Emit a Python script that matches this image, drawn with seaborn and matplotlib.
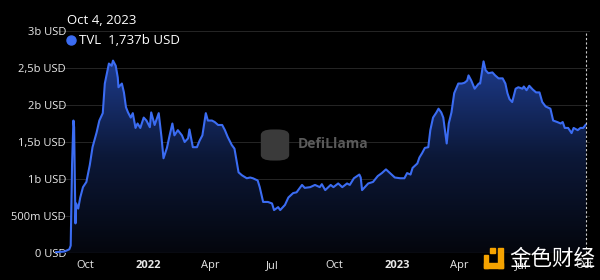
import numpy as np
import pandas as pd
import matplotlib
matplotlib.use("Agg")
import matplotlib.pyplot as plt
import matplotlib.dates as mdates
from matplotlib.patches import FancyBboxPatch, Rectangle
from matplotlib.lines import Line2D
from matplotlib.colors import LinearSegmentedColormap
import seaborn as sns

dates = [
    "2021-08-17", "2021-08-31", "2021-09-07", "2021-09-09", "2021-09-11", "2021-09-13",
    "2021-09-14", "2021-09-16", "2021-09-17", "2021-09-20", "2021-09-23", "2021-09-27",
    "2021-10-02", "2021-10-07", "2021-10-11", "2021-10-17", "2021-10-21", "2021-10-26",
    "2021-10-29", "2021-11-02", "2021-11-04", "2021-11-08", "2021-11-10", "2021-11-14",
    "2021-11-17", "2021-11-18", "2021-11-23", "2021-11-26", "2021-11-29", "2021-12-02",
    "2021-12-06", "2021-12-09", "2021-12-13", "2021-12-16", "2021-12-20", "2021-12-25",
    "2021-12-29", "2022-01-03", "2022-01-05", "2022-01-10", "2022-01-16", "2022-01-20",
    "2022-01-23", "2022-01-28", "2022-02-01", "2022-02-05", "2022-02-08", "2022-02-13",
    "2022-02-19", "2022-02-23", "2022-02-28", "2022-03-02", "2022-03-07", "2022-03-13",
    "2022-03-17", "2022-03-21", "2022-03-26", "2022-03-29", "2022-04-04", "2022-04-08",
    "2022-04-13", "2022-04-19", "2022-04-23", "2022-04-27", "2022-05-03", "2022-05-07",
    "2022-05-10", "2022-05-13", "2022-05-18", "2022-05-25", "2022-05-30", "2022-06-03",
    "2022-06-10", "2022-06-13", "2022-06-18", "2022-06-25", "2022-07-01", "2022-07-04",
    "2022-07-10", "2022-07-13", "2022-07-20", "2022-07-25", "2022-08-01", "2022-08-06",
    "2022-08-14", "2022-08-18", "2022-08-26", "2022-09-02", "2022-09-09", "2022-09-12",
    "2022-09-17", "2022-09-25", "2022-09-29", "2022-10-06", "2022-10-12", "2022-10-19",
    "2022-10-23", "2022-10-29", "2022-11-06", "2022-11-08", "2022-11-10", "2022-11-14",
    "2022-11-19", "2022-11-26", "2022-12-03", "2022-12-09", "2022-12-15", "2022-12-21",
    "2022-12-28", "2023-01-05", "2023-01-11", "2023-01-15", "2023-01-20", "2023-01-23",
    "2023-01-30", "2023-02-02", "2023-02-06", "2023-02-10", "2023-02-15", "2023-02-18",
    "2023-02-22", "2023-02-27", "2023-03-02", "2023-03-06", "2023-03-09", "2023-03-14",
    "2023-03-17", "2023-03-21", "2023-03-25", "2023-03-31", "2023-04-05", "2023-04-09",
    "2023-04-13", "2023-04-15", "2023-04-19", "2023-04-24", "2023-04-30", "2023-05-02",
    "2023-05-07", "2023-05-10", "2023-05-14", "2023-05-20", "2023-05-24", "2023-05-29",
    "2023-06-04", "2023-06-08", "2023-06-11", "2023-06-14", "2023-06-18", "2023-06-23",
    "2023-06-27", "2023-07-03", "2023-07-05", "2023-07-09", "2023-07-13", "2023-07-18",
    "2023-07-23", "2023-07-28", "2023-08-01", "2023-08-06", "2023-08-13", "2023-08-17",
    "2023-08-23", "2023-08-28", "2023-08-31", "2023-09-03", "2023-09-08", "2023-09-13",
    "2023-09-16", "2023-09-22", "2023-09-26", "2023-09-30", "2023-10-04",
]
tvl_billion = [
    0.01, 0.02, 0.05, 0.10, 1.20, 1.79,
    1.70, 0.40, 0.67, 0.60, 0.75, 0.89,
    0.96, 1.19, 1.43, 1.63, 1.79, 1.89,
    2.29, 2.47, 2.56, 2.53, 2.60, 2.53,
    2.37, 2.24, 2.29, 2.17, 1.97, 1.90,
    1.83, 1.89, 1.69, 1.75, 1.69, 1.83,
    1.79, 1.70, 1.90, 1.73, 1.89, 1.57,
    1.28, 1.42, 1.59, 1.75, 1.59, 1.66,
    1.59, 1.50, 1.55, 1.67, 1.43, 1.43,
    1.52, 1.59, 1.89, 1.79, 1.79, 1.77,
    1.73, 1.73, 1.66, 1.57, 1.46, 1.41,
    1.25, 1.09, 1.05, 1.01, 1.02, 1.01,
    0.98, 0.89, 0.69, 0.69, 0.67, 0.58,
    0.62, 0.58, 0.65, 0.75, 0.81, 0.82,
    0.92, 0.88, 0.89, 0.92, 0.89, 0.93,
    0.85, 0.92, 0.89, 0.94, 0.89, 0.94,
    0.92, 1.01, 1.06, 1.02, 0.85, 0.89,
    0.94, 0.96, 1.04, 1.08, 1.13, 1.08,
    1.02, 1.01, 1.01, 1.08, 1.06, 1.15,
    1.21, 1.29, 1.35, 1.42, 1.43, 1.66,
    1.83, 1.90, 1.95, 1.90, 1.83, 1.48,
    1.75, 1.90, 2.16, 2.29, 2.29, 2.30,
    2.33, 2.40, 2.33, 2.22, 2.29, 2.29,
    2.59, 2.47, 2.43, 2.44, 2.40, 2.36,
    2.36, 2.29, 2.16, 2.08, 2.04, 2.22,
    2.24, 2.22, 2.25, 2.20, 2.26, 2.21,
    2.17, 2.17, 2.04, 1.98, 1.95, 1.79,
    1.77, 1.75, 1.77, 1.69, 1.69, 1.62,
    1.69, 1.66, 1.69, 1.69, 1.737,
]
ytick_values = [0, 0.5, 1.0, 1.5, 2.0, 2.5, 3.0]
ytick_labels = ["0 USD", "500m USD", "1b USD", "1,5b USD", "2b USD", "2,5b USD", "3b USD"]
xtick_dates = ["2021-10-01", "2022-01-01", "2022-04-01", "2022-07-01", "2022-10-01",
               "2023-01-01", "2023-04-01", "2023-07-01", "2023-10-01"]
xtick_labels = ["Oct", "2022", "Apr", "Jul", "Oct", "2023", "Apr", "Jul", "Oct"]
tooltip_date = "Oct 4, 2023"
tooltip_series = "TVL"
tooltip_value = "1,737b USD"

df = pd.DataFrame({"date": pd.to_datetime(dates), "tvl": tvl_billion})

sns.set_theme(style="dark")
plt.rcParams["font.family"] = ["Open Sans", "DejaVu Sans"]

BG = "#000000"
LINE = "#3b6cf2"
ORANGE = "#f5a300"
fig = plt.figure(figsize=(6.0, 2.8), dpi=100, facecolor=BG)
ax = fig.add_axes([55 / 600, 27 / 280, 535 / 600, 222 / 280])
ax.set_facecolor(BG)

x0 = pd.Timestamp("2021-08-17")
x1 = pd.Timestamp("2023-10-10")
ax.set_xlim(x0, x1)
ax.set_ylim(0, 3.0)

# gradient fill under the curve
poly = ax.fill_between(df["date"], df["tvl"], 0, color="none", lw=0)
grad = np.linspace(0, 1, 256).reshape(-1, 1)
cmap = LinearSegmentedColormap.from_list("g", ["#04060d", "#0c1838", "#1d3b8c"])
ymax = max(tvl_billion)
im = ax.imshow(grad, aspect="auto", cmap=cmap, origin="lower",
               extent=[mdates.date2num(x0), mdates.date2num(x1), 0, ymax],
               zorder=1)
im.set_clip_path(poly.get_paths()[0], transform=ax.transData)

sns.lineplot(data=df, x="date", y="tvl", ax=ax, color=LINE, linewidth=1.5, zorder=3)

# grid
for v in ytick_values[1:]:
    ax.axhline(v, color="#262626", lw=0.7, zorder=0)
ax.axhline(0, color="#5a5a5a", lw=0.8, zorder=2)

ax.set_yticks(ytick_values)
ax.set_yticklabels(ytick_labels)
ax.tick_params(axis="y", length=0, pad=-8, colors="#e8e8e8", labelsize=8)
for lbl in ax.get_yticklabels():
    lbl.set_zorder(5)

ax.set_xticks(pd.to_datetime(xtick_dates))
ax.set_xticklabels(xtick_labels)
ax.tick_params(axis="x", length=3, width=0.8, color="#cccccc", pad=2,
               colors="#e8e8e8", labelsize=8)
for lbl in ax.get_xticklabels():
    if lbl.get_text().isdigit():
        lbl.set_fontweight("bold")

ax.set_xlabel("")
ax.set_ylabel("")
ax.grid(False)
for s in ax.spines.values():
    s.set_visible(False)

# crosshair at last date
ax.axvline(pd.Timestamp(dates[-1]), color="#cccccc", lw=0.8, ls=(0, (2, 2)), zorder=4)

# tooltip
fig.text(67 / 600, 1 - 20 / 280, tooltip_date, color="white", fontsize=9.5,
         va="center", ha="left")
fig.text(79 / 600, 1 - 40.5 / 280, f"{tooltip_series}  {tooltip_value}", color="white",
         fontsize=9.5, va="center", ha="left")
fig.add_artist(Line2D([71 / 600], [1 - 40 / 280], marker="o", markersize=6.5,
                      color=LINE, linestyle="none", transform=fig.transFigure))

# DefiLlama watermark
fig.patches.append(FancyBboxPatch((262 / 600, 1 - 160 / 280), 26 / 600, 30 / 280,
                                  boxstyle="round,pad=0.002,rounding_size=0.02",
                                  transform=fig.transFigure, facecolor="#3a3a3a",
                                  edgecolor="none", figure=fig, zorder=2))
fig.text(298 / 600, 1 - 144 / 280, "DefiLlama", color="#5a5a5a", fontsize=10,
         fontweight="bold", va="center", ha="left", zorder=2)

# 金色财经 watermark
for (rx, ry, rw, rh) in [(490, 248, 5, 5), (484, 255, 4, 13), (484, 263, 19, 5), (498, 248, 5, 20)]:
    fig.patches.append(Rectangle((rx / 600, 1 - (ry + rh) / 280), rw / 600, rh / 280,
                                 transform=fig.transFigure, color=ORANGE, figure=fig,
                                 zorder=6))
fig.text(509 / 600, 1 - 259 / 280, "金色财经", color="white", fontsize=15.5,
         family=["Noto Sans CJK SC", "DejaVu Sans"], va="center", ha="left", zorder=6)

fig.savefig("out.png", dpi=100, facecolor=BG)
